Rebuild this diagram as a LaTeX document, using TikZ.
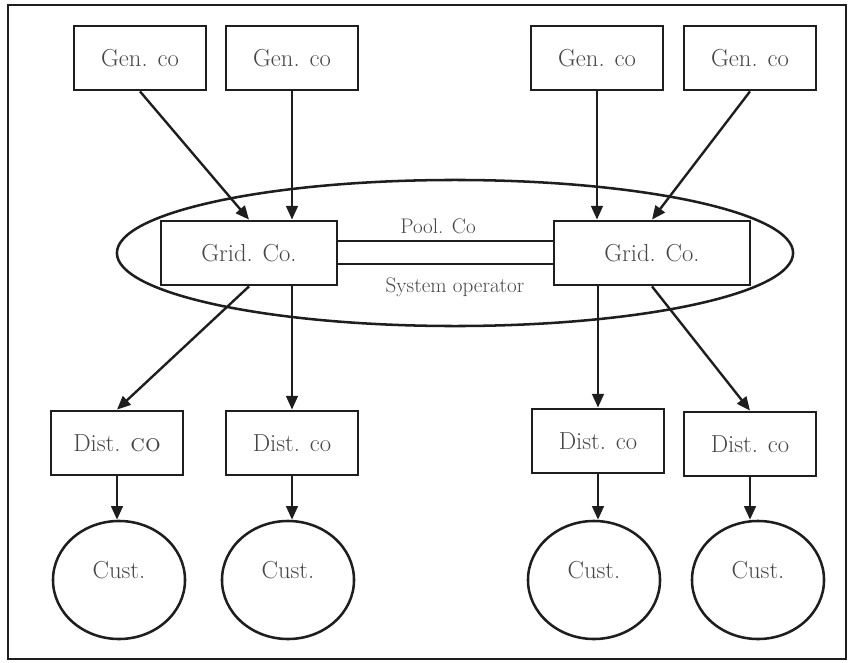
\documentclass[tikz,border=0pt]{standalone}
\usepackage{tikz}
\usetikzlibrary{arrows.meta,shapes.geometric}

\begin{document}
\begin{tikzpicture}[x=0.025cm,y=-0.025cm,
  box/.style={draw=cInk,line width=2pt,minimum width=3.3cm,minimum height=1.6cm,
    inner sep=0pt,text=cText,font=\fontsize{17.5}{20}\selectfont},
  cust/.style={draw=cInk,ellipse,line width=1.8pt,minimum width=3.3cm,minimum height=2.95cm,
    inner sep=0pt,text depth=0.5cm,text=cText,font=\fontsize{17.5}{20}\selectfont},
  arr/.style={-{Triangle[length=3.4mm,width=2.9mm]},draw=cInk,line width=1.7pt}]
  \definecolor{cInk}{RGB}{30,30,30}
  \definecolor{cText}{RGB}{70,70,70}

  \useasboundingbox (0,0) rectangle (848,663);
  % outer frame
  \draw[cInk,line width=1.5pt] (8,5) rectangle (846,659);

  % generating companies
  \node[box] (gen1) at (140,58) {Gen. co};
  \node[box] (gen2) at (292,58) {Gen. co};
  \node[box] (gen3) at (597,58) {Gen. co};
  \node[box] (gen4) at (750,58) {Gen. co};

  % pool ellipse with the two grid companies
  \node[draw=cInk,ellipse,line width=1.8pt,minimum width=16.9cm,minimum height=3.65cm,
    inner sep=0pt] (pool) at (455,253) {};
  \node[box,minimum width=4.4cm] (grid1) at (249,253) {Grid. Co.};
  \node[box,minimum width=4.9cm] (grid2) at (652,253) {Grid. Co.};
  \node[text=cText,font=\fontsize{15}{17}\selectfont] (poollbl) at (438,226) {Pool. Co};
  \node[text=cText,font=\fontsize{15}{17}\selectfont] (syslbl) at (455,287) {System operator};
  \coordinate (linea) at (446,241);
  \coordinate (lineb) at (446,264);
  \draw[cInk,line width=2pt] (grid1.east |- linea) -- (grid2.west |- linea);
  \draw[cInk,line width=2pt] (grid1.east |- lineb) -- (grid2.west |- lineb);

  % distribution companies
  \node[box] (dist1) at (117,443) {Dist. \textsc{co}};
  \node[box] (dist2) at (292,443) {Dist. co};
  \node[box] (dist3) at (598,441) {Dist. co};
  \node[box] (dist4) at (750,444) {Dist. co};

  % customers
  \node[cust] (cust1) at (119,580) {Cust.};
  \node[cust] (cust2) at (288,580) {Cust.};
  \node[cust] (cust3) at (594,580) {Cust.};
  \node[cust] (cust4) at (758,580) {Cust.};

  % gen -> grid
  \draw[arr] (gen1.south) -- (grid1.north);
  \draw[arr] (gen2.south) -- (gen2.south |- grid1.north);
  \draw[arr] (gen3.south) -- (gen3.south |- grid2.north);
  \draw[arr] (gen4.south) -- (grid2.north);

  % grid -> dist
  \draw[arr] (grid1.south) -- (dist1.north);
  \draw[arr] (dist2.north |- grid1.south) -- (dist2.north);
  \draw[arr] (dist3.north |- grid2.south) -- (dist3.north);
  \draw[arr] (grid2.south) -- (dist4.north);

  % dist -> customers
  \draw[arr] (dist1.south) -- (dist1.south |- cust1.north);
  \draw[arr] (dist2.south) -- (dist2.south |- cust2.north);
  \draw[arr] (dist3.south) -- (dist3.south |- cust3.north);
  \draw[arr] (dist4.south) -- (dist4.south |- cust4.north);
\end{tikzpicture}
\end{document}
